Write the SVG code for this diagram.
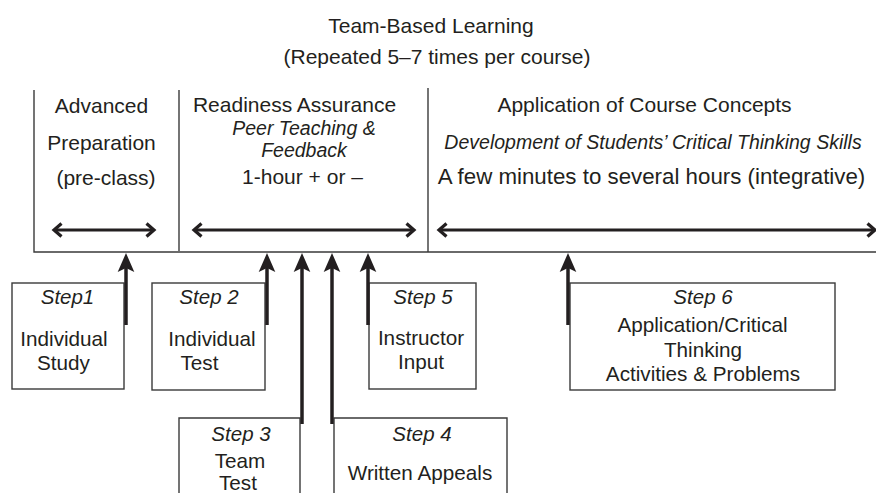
<svg xmlns="http://www.w3.org/2000/svg" width="876" height="493" viewBox="0 0 876 493">
<style>
text{font-family:"Liberation Sans",Arial,Helvetica,sans-serif;fill:#231f20;text-anchor:middle}
.h{font-size:21px}
.hl{font-size:22.3px}
.hi{font-size:19.5px;font-style:italic}
.b{font-size:20.7px}
.s{font-size:20.5px;font-style:italic}
.box{fill:#fff;stroke:#3a3a3a;stroke-width:1.4}
.frame{stroke:#3a3a3a;stroke-width:1.4;fill:none}
.dbl{stroke:#231f20;stroke-width:3;fill:none;marker-start:url(#chev);marker-end:url(#chev)}
.up{stroke:#231f20;stroke-width:3.5;fill:none;marker-end:url(#head)}
</style>
<defs>
<marker id="chev" markerUnits="userSpaceOnUse" viewBox="-12 -10 16 20" refX="0" refY="0" markerWidth="16" markerHeight="20" orient="auto-start-reverse" overflow="visible">
<path d="M-7.5,-6.5 L0,0 L-7.5,6.5" fill="none" stroke="#231f20" stroke-width="3.2" stroke-linejoin="miter"/>
</marker>
<marker id="head" markerUnits="userSpaceOnUse" viewBox="-10 -10 24 20" refX="0" refY="0" markerWidth="24" markerHeight="20" orient="auto" overflow="visible">
<path d="M12,0 L-7,-8.3 L-3,0 L-7,8.3 Z" fill="#231f20"/>
</marker>
</defs>

<g id="title">
<text class="h" x="431" y="33">Team-Based Learning</text>
<text class="h" x="437" y="64">(Repeated 5–7 times per course)</text>
</g>

<g id="frame">
<path class="frame" d="M34,90 V252 H876"/>
<path class="frame" d="M179,90 V251"/>
<path class="frame" d="M428,88 V252"/>
</g>

<g id="phase-preparation">
<text class="h" x="101.5" y="113">Advanced</text>
<text class="h" x="101.5" y="150">Preparation</text>
<text class="h" x="106" y="185">(pre-class)</text>
</g>

<g id="phase-readiness">
<text class="h" x="294.5" y="112">Readiness Assurance</text>
<text class="hi" x="304" y="135">Peer Teaching &amp;</text>
<text class="hi" x="304" y="157">Feedback</text>
<text class="h" x="302.5" y="184">1-hour + or –</text>
</g>

<g id="phase-application">
<text class="h" x="644.5" y="112">Application of Course Concepts</text>
<text class="hi" x="653" y="149">Development of Students’ Critical Thinking Skills</text>
<text class="hl" x="651.5" y="184">A few minutes to several hours (integrative)</text>
</g>

<g id="step1">
<rect class="box" x="12" y="283" width="112" height="106"/>
<text class="s" x="67.5" y="304">Step1</text>
<text class="b" x="64" y="346">Individual</text>
<text class="b" x="63.5" y="370">Study</text>
</g>

<g id="step2">
<rect class="box" x="152" y="283" width="113" height="107"/>
<text class="s" x="209" y="304">Step 2</text>
<text class="b" x="212" y="346">Individual</text>
<text class="b" x="199.5" y="370">Test</text>
</g>

<g id="step3">
<path class="box" d="M179,495 V418 H300 V495"/>
<text class="s" x="241" y="441">Step 3</text>
<text class="b" x="240" y="468">Team</text>
<text class="b" x="238" y="490">Test</text>
</g>

<g id="step4">
<path class="box" d="M334,495 V418 H507 V495"/>
<text class="s" x="422" y="441">Step 4</text>
<text class="b" x="420" y="480">Written Appeals</text>
</g>

<g id="step5">
<rect class="box" x="369" y="283" width="107" height="106"/>
<text class="s" x="423" y="304">Step 5</text>
<text class="b" x="421" y="345">Instructor</text>
<text class="b" x="421" y="369">Input</text>
</g>

<g id="step6">
<rect class="box" x="570" y="283" width="265" height="107"/>
<text class="s" x="703" y="304">Step 6</text>
<text class="b" x="702.5" y="332">Application/Critical</text>
<text class="b" x="703" y="357">Thinking</text>
<text class="b" x="703" y="381">Activities &amp; Problems</text>
</g>

<g id="connectors">
<line class="dbl" x1="54" y1="230" x2="154" y2="230"/>
<line class="dbl" x1="194" y1="230" x2="414" y2="230"/>
<line class="dbl" x1="439" y1="230" x2="875" y2="230"/>
<line class="up" x1="126" y1="325" x2="126" y2="265"/>
<line class="up" x1="267" y1="325" x2="267" y2="265"/>
<line class="up" x1="302" y1="424" x2="302" y2="265"/>
<line class="up" x1="332" y1="424" x2="332" y2="265"/>
<line class="up" x1="368" y1="325" x2="368" y2="265"/>
<line class="up" x1="568" y1="325" x2="568" y2="265"/>
</g>
</svg>
